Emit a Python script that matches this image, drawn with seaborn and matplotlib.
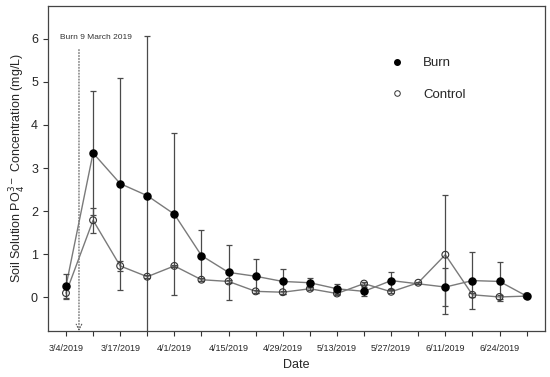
import numpy as np
import pandas as pd
import matplotlib
matplotlib.use("Agg")
import matplotlib.pyplot as plt
from matplotlib.lines import Line2D
import seaborn as sns

# ---- data ----
tick_labels = ["3/4/2019", "", "3/17/2019", "", "4/1/2019", "", "4/15/2019", "",
               "4/29/2019", "", "5/13/2019", "", "5/27/2019", "", "6/11/2019", "",
               "6/24/2019", ""]
burn = [0.26, 3.35, 2.64, 2.36, 1.93, 0.97, 0.58, 0.49, 0.37, 0.34, 0.20, 0.14,
        0.39, np.nan, 0.24, 0.39, 0.37, 0.03]
burn_err = [0.29, 1.43, 2.46, 3.71, 1.88, 0.59, 0.64, 0.39, 0.28, 0.10, 0.12, 0.11,
            0.19, np.nan, 0.45, 0.67, 0.46, 0.02]
control = [0.10, 1.79, 0.73, 0.48, 0.73, 0.41, 0.37, 0.14, 0.12, 0.20, 0.09, 0.32,
           0.13, 0.34, 0.99, 0.06, 0.01, 0.03]
control_err = [0.12, 0.29, 0.11, 0.03, 0.03, 0.04, 0.03, 0.03, 0.03, 0.03, 0.03, 0.03,
               0.03, 0.02, 1.38, 0.04, 0.05, 0.02]
burn_pos = 0.48
burn_label = "Burn 9 March 2019"

sns.set_style("ticks")
plt.rcParams["font.family"] = ["Liberation Sans", "DejaVu Sans"]

idx = np.arange(len(burn))
df = pd.DataFrame({
    "idx": np.concatenate([idx, idx]),
    "value": np.concatenate([control, burn]),
    "err": np.concatenate([control_err, burn_err]),
    "group": ["Control"] * len(idx) + ["Burn"] * len(idx),
})

fig = plt.figure(figsize=(5.5, 3.77), dpi=100)
ax = fig.add_axes([0.0867, 0.122, 0.9043, 0.862])

line_col = "#7a7a7a"
err_col = "#4a4a4a"

for g in ["Control", "Burn"]:
    d = df[df.group == g].dropna()
    sns.lineplot(data=d, x="idx", y="value", ax=ax, color=line_col, lw=1.0,
                 estimator=None, sort=False, legend=False, zorder=2)
    ax.errorbar(d["idx"], d["value"], yerr=d["err"], fmt="none", ecolor=err_col,
                elinewidth=0.9, capsize=2.5, capthick=0.9, zorder=3)

dc = df[df.group == "Control"]
ax.scatter(dc["idx"], dc["value"], s=24, facecolors="none", edgecolors="#333333",
           linewidths=0.8, zorder=4)
db = df[df.group == "Burn"].dropna()
ax.scatter(db["idx"], db["value"], s=26, color="black", zorder=5)

# burn annotation
ax.annotate("", xy=(burn_pos, -0.78), xytext=(burn_pos, 5.75),
            arrowprops=dict(arrowstyle="->", linestyle=":", color="#555555", lw=0.8,
                            shrinkA=0, shrinkB=0), zorder=1)
ax.text(1.1, 6.03, burn_label, ha="center", va="center", fontsize=6, color="#333333")

ax.set_xlim(-0.675, 17.68)
ax.set_ylim(-0.78, 6.76)
ax.set_xticks(idx)
ax.set_xticklabels(tick_labels, fontsize=6.5)
ax.set_yticks(range(0, 7))
ax.set_yticklabels([str(i) for i in range(0, 7)], fontsize=9)
ax.tick_params(axis="both", direction="out", length=3.5, width=0.8, color="#333333")
ax.tick_params(axis="x", pad=6)
for s in ax.spines.values():
    s.set_visible(True)
    s.set_color("#444444")
    s.set_linewidth(0.9)

ax.set_xlabel("Date", fontsize=9, labelpad=4)
ax.set_ylabel(r"Soil Solution PO$_4^{3-}$ Concentration (mg/L)", fontsize=9, labelpad=2)

handles = [Line2D([], [], marker="o", ls="none", color="black", markersize=4),
           Line2D([], [], marker="o", ls="none", markerfacecolor="none",
                  markeredgecolor="#333333", markersize=4, markeredgewidth=0.7)]
ax.legend(handles, ["Burn", "Control"], frameon=False, fontsize=9.5,
          loc="upper left", bbox_to_anchor=(0.665, 0.88), handletextpad=1.5,
          labelspacing=1.45, handlelength=1.0)

fig.savefig("out.png", dpi=100)
